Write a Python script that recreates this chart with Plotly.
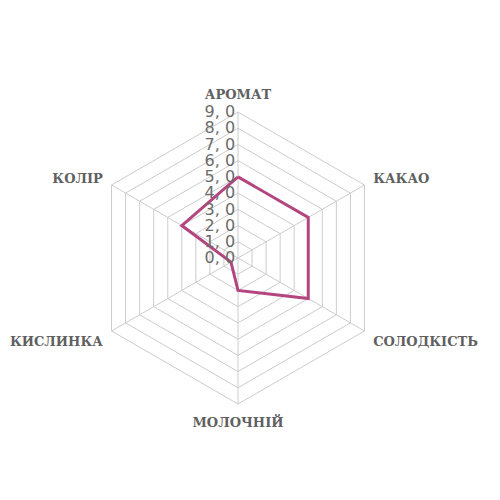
import plotly.graph_objects as go

# flavour profile
categories = ['АРОМАТ', 'КАКАО', 'СОЛОДКІСТЬ', 'МОЛОЧНІЙ', 'КИСЛИНКА', 'КОЛІР']
values = [5.0, 5.0, 5.0, 2.0, 0.5, 4.0]
tick_vals = [0, 1, 2, 3, 4, 5, 6, 7, 8, 9]
tick_text = ['0, 0', '1, 0', '2, 0', '3, 0', '4, 0', '5, 0', '6, 0', '7, 0', '8, 0', '9, 0']

# close the polygon
r_closed = values + values[:1]
theta_closed = categories + categories[:1]

fig = go.Figure()
fig.add_trace(go.Scatterpolar(
    r=r_closed, theta=theta_closed, mode='lines',
    line=dict(color='#B3457F', width=3),
    showlegend=False, hoverinfo='skip'
))

fig.update_layout(
    width=500, height=500,
    paper_bgcolor='white',
    margin=dict(l=84, r=124, t=104, b=104),
    polar=dict(
        bgcolor='white',
        gridshape='linear',
        radialaxis=dict(
            range=[0, 9], tickvals=tick_vals, ticktext=tick_text,
            angle=90, tickangle=90, side='counterclockwise',
            showline=False, ticks='',
            gridcolor='#CCCCCC', gridwidth=1,
            tickfont=dict(family='DejaVu Sans', size=16, color='#6B6B6B'),
        ),
        angularaxis=dict(
            direction='clockwise', rotation=90,
            gridcolor='#CCCCCC', linecolor='#CCCCCC', linewidth=1,
            ticks='outside', ticklen=7, tickcolor='rgba(0,0,0,0)',
            tickfont=dict(family='DejaVu Serif', size=13, color='#606060', weight='bold'),
        ),
    ),
)

fig.write_html("out.html")
